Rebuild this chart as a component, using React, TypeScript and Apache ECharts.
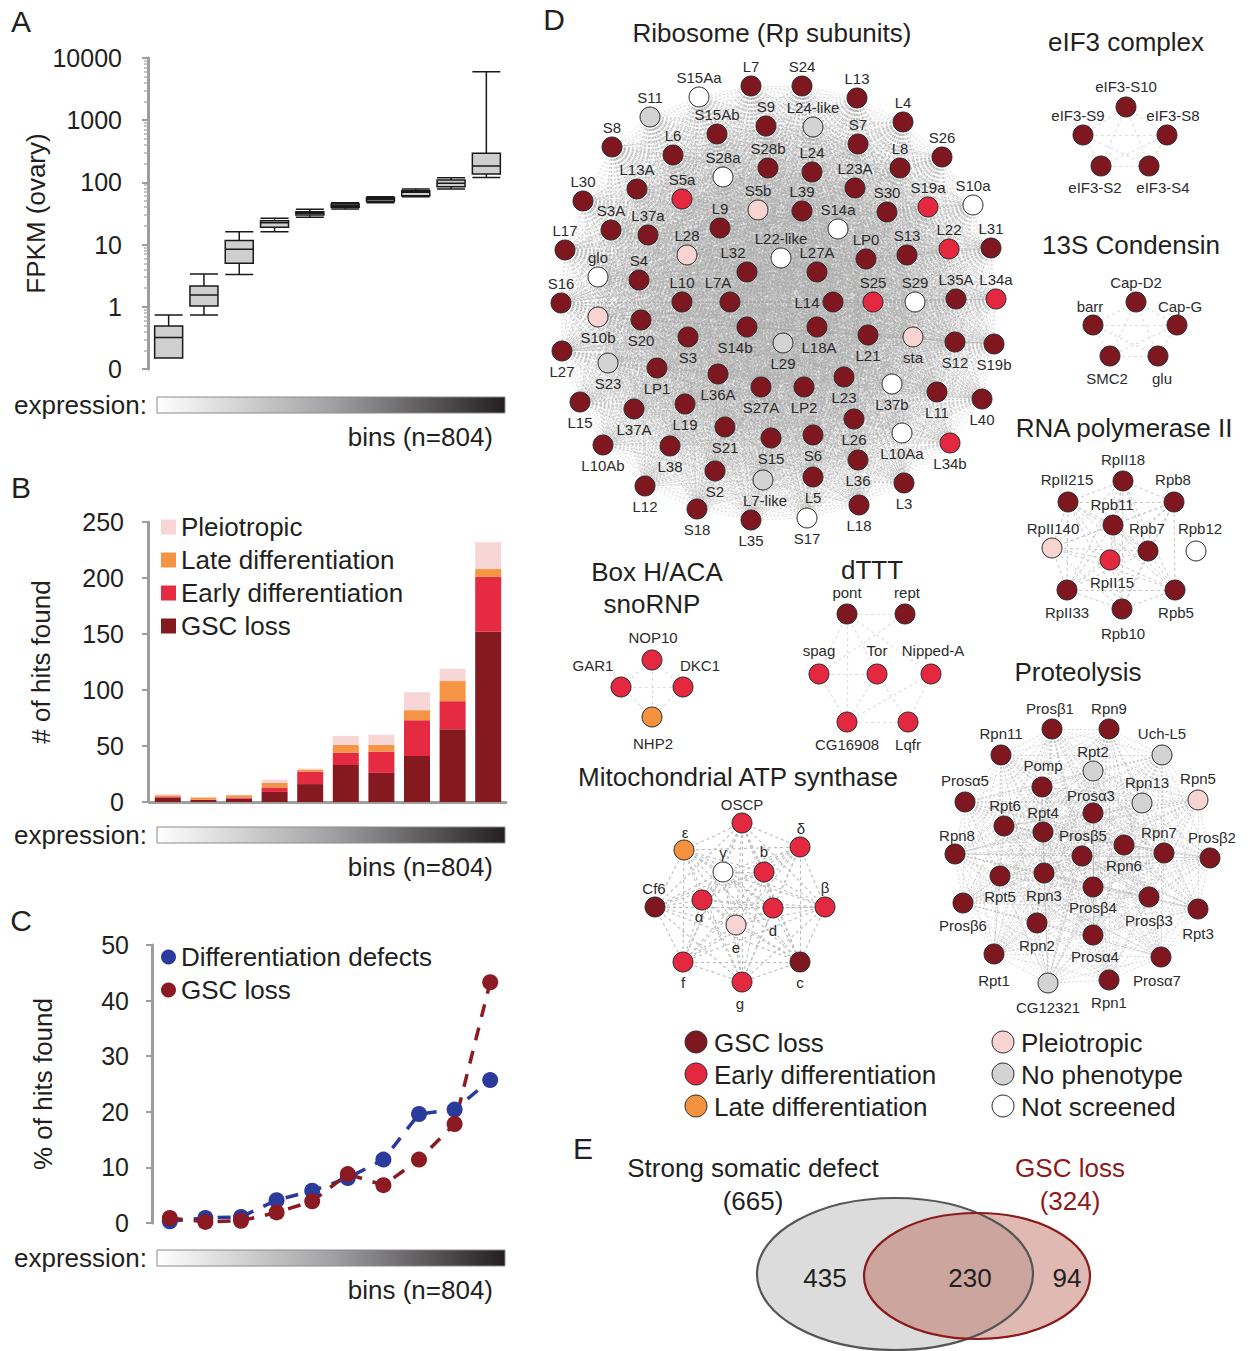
import React, { useEffect, useRef } from "react";
import * as echarts from "echarts";

const FONT = "'Liberation Sans', Arial, Helvetica, sans-serif";
const INK = "#231f20";

// ---------- Panels A-C data ----------
const BINS = ["1", "2", "3", "4", "5", "6", "7", "8", "9", "10"];

// FPKM (ovary) per expression bin: [min, Q1, median, Q3, max]
const FPKM_BOXES = [
  [0.15, 0.15, 0.32, 0.49, 0.74],
  [0.74, 1.03, 1.55, 2.16, 3.37],
  [3.3, 5.0, 8.4, 11.6, 16.1],
  [16.1, 19, 22.5, 24.2, 26.5],
  [27.5, 29.9, 31.8, 33.8, 36.9],
  [37.4, 39.8, 42.2, 45, 47.2],
  [47.2, 49.6, 53.4, 56.7, 58.9],
  [58.9, 61.1, 69.2, 73.6, 78.3],
  [78.3, 85.3, 96.6, 109, 119],
  [120, 136, 184, 293, 6026],
];

// # of hits found per bin
const GSC_LOSS_HITS = [4, 2, 3, 9, 16, 33, 26, 41, 65, 152];
const EARLY_DIFF_HITS = [1, 0, 1, 4, 11, 11, 19, 32, 25, 49];
const LATE_DIFF_HITS = [1, 2, 2, 4, 2, 7, 6, 9, 18, 7];
const PLEIOTROPIC_HITS = [1, 0, 0, 3, 1, 8, 9, 16, 11, 24];

// % of hits found per bin
const DIFF_DEFECTS_PCT = [0.3, 0.9, 1.1, 4.1, 5.8, 8.1, 11.4, 19.6, 20.4, 25.7];
const GSC_LOSS_PCT = [0.9, 0.2, 0.4, 1.9, 3.9, 8.8, 6.8, 11.4, 17.8, 43.3];

// ---------- Panel D: phenotype classes ----------
const PHENOTYPE_CODES = ["G", "E", "L", "P", "N", "X"];
const PHENOTYPE_NAMES = [
  "GSC loss",
  "Early differentiation",
  "Late differentiation",
  "Pleiotropic",
  "No phenotype",
  "Not screened",
];
const PHENOTYPE_COLORS: Record<string, string> = {
  G: "#7f1720",
  E: "#e4283f",
  L: "#f4923f",
  P: "#f7d4d2",
  N: "#d3d3d3",
  X: "#ffffff",
};

// Network layouts: [gene, layout x, layout y, phenotype, label anchor]
type NodeRow = [string, number, number, string, string | number[]];

const RIBOSOME_NODES: NodeRow[] = [
  ["S15Aa", 699, 97, "X", "t"], ["L7", 751, 86, "G", "t"], ["S24", 802, 86, "G", "t"],
  ["L13", 857, 98, "G", "t"], ["S11", 650, 117, "N", "t"], ["L4", 903, 122, "G", "t"],
  ["S15Ab", 717, 134, "G", "t"], ["S9", 766, 126, "G", "t"], ["L24-like", 813, 127, "N", "t"],
  ["S7", 858, 144, "G", "t"], ["S8", 612, 147, "G", "t"], ["L6", 673, 155, "G", "t"],
  ["S26", 942, 157, "G", "t"], ["S28a", 723, 177, "X", "t"], ["S28b", 768, 168, "G", "t"],
  ["L24", 812, 172, "G", "t"], ["L8", 900, 168, "G", "t"], ["L23A", 855, 188, "G", "t"],
  ["L30", 583, 201, "G", "t"], ["L13A", 637, 189, "G", "t"], ["S5a", 682, 199, "E", "t"],
  ["S5b", 758, 210, "P", "t"], ["L39", 802, 211, "G", "t"], ["S30", 887, 212, "G", "t"],
  ["S19a", 928, 207, "E", "t"], ["S10a", 973, 205, "X", "t"], ["S3A", 611, 230, "G", "t"],
  ["L37a", 648, 235, "G", "t"], ["L9", 720, 228, "G", "t"], ["S14a", 838, 229, "X", "t"],
  ["L17", 565, 250, "G", "t"], ["L28", 687, 255, "P", "t"], ["L22-like", 781, 258, "X", "t"],
  ["LP0", 866, 259, "G", "t"], ["S13", 907, 255, "G", "t"], ["L22", 949, 249, "E", "t"],
  ["L31", 991, 248, "G", "t"], ["L32", 747, 272, "G", [-14, -20]], ["L27A", 817, 272, "G", "t"],
  ["glo", 598, 277, "X", "t"], ["S4", 639, 280, "G", "t"], ["S16", 561, 303, "G", "t"],
  ["L10", 682, 302, "G", "t"], ["L7A", 730, 302, "G", [-12, -20]], ["L14", 833, 302, "G", "l"],
  ["S25", 873, 302, "E", "t"], ["S29", 915, 302, "X", "t"], ["L35A", 956, 299, "G", "t"],
  ["L34a", 996, 299, "E", "t"], ["S10b", 598, 317, "P", "b"], ["S20", 641, 320, "G", "b"],
  ["S3", 688, 337, "G", "b"], ["S14b", 747, 327, "G", [-12, 20]], ["L29", 783, 343, "N", "b"],
  ["L18A", 817, 327, "G", [2, 20]], ["L21", 868, 335, "G", "b"], ["sta", 913, 337, "P", "b"],
  ["S12", 955, 342, "G", "b"], ["S19b", 994, 344, "G", "b"], ["L27", 562, 351, "G", "b"],
  ["S23", 608, 363, "N", "b"], ["LP1", 657, 368, "G", "b"], ["L36A", 718, 374, "G", "b"],
  ["S27A", 761, 387, "G", "b"], ["LP2", 804, 387, "G", "b"], ["L23", 844, 377, "G", "b"],
  ["L37b", 892, 384, "X", "b"], ["L11", 937, 392, "G", "b"], ["L40", 982, 399, "G", "b"],
  ["L15", 580, 402, "G", "b"], ["L37A", 634, 409, "G", "b"], ["L19", 685, 404, "G", "b"],
  ["S21", 725, 427, "G", "b"], ["L26", 854, 419, "G", "b"], ["L10Aa", 902, 433, "X", "b"],
  ["L34b", 950, 443, "E", "b"], ["L10Ab", 603, 445, "G", "b"], ["L38", 670, 446, "G", "b"],
  ["S15", 771, 438, "G", "b"], ["S6", 813, 435, "G", "b"], ["L36", 858, 460, "G", "b"],
  ["L3", 904, 483, "G", "b"], ["S2", 715, 471, "G", "b"], ["L7-like", 763, 480, "N", [2, 20]],
  ["L5", 813, 477, "G", "b"], ["L12", 645, 486, "G", "b"], ["S18", 697, 509, "G", "b"],
  ["L18", 859, 505, "G", "b"], ["L35", 751, 520, "G", "b"], ["S17", 807, 518, "X", "b"],
];

const EIF3_NODES: NodeRow[] = [
  ["eIF3-S10", 1126, 107, "G", [0, -21]],
  ["eIF3-S9", 1083, 135, "G", [-5, -20]],
  ["eIF3-S8", 1167, 135, "G", [6, -20]],
  ["eIF3-S2", 1101, 166, "G", [-6, 21]],
  ["eIF3-S4", 1149, 166, "G", [14, 21]],
];

const CONDENSIN_NODES: NodeRow[] = [
  ["Cap-D2", 1136, 302, "G", [0, -20]],
  ["barr", 1093, 325, "G", [-3, -19]],
  ["Cap-G", 1177, 325, "G", [3, -19]],
  ["SMC2", 1110, 356, "G", [-3, 22]],
  ["glu", 1158, 356, "G", [4, 22]],
];

const POLII_NODES: NodeRow[] = [
  ["RpII18", 1123, 481, "G", [0, -22]],
  ["RpII215", 1068, 502, "G", [-1, -23]],
  ["Rpb8", 1174, 502, "G", [-1, -23]],
  ["Rpb11", 1113, 525, "G", [-1, -21]],
  ["RpII140", 1052, 548, "P", [1, -20]],
  ["Rpb7", 1148, 551, "G", [-1, -23]],
  ["Rpb12", 1196, 551, "X", [4, -23]],
  ["RpII15", 1110, 560, "E", [2, 22]],
  ["RpII33", 1067, 590, "G", [0, 22]],
  ["Rpb5", 1175, 590, "G", [1, 22]],
  ["Rpb10", 1122, 609, "G", [1, 24]],
];

const SNORNP_NODES: NodeRow[] = [
  ["NOP10", 652, 660, "E", [1, -23]],
  ["GAR1", 621, 687, "E", [-28, -22]],
  ["DKC1", 683, 687, "E", [17, -22]],
  ["NHP2", 652, 717, "L", [1, 26]],
];

const DTTT_NODES: NodeRow[] = [
  ["pont", 847, 614, "G", [0, -22]],
  ["rept", 905, 614, "G", [2, -22]],
  ["spag", 819, 674, "E", [0, -24]],
  ["Tor", 877, 674, "E", [0, -24]],
  ["Nipped-A", 931, 674, "E", [2, -24]],
  ["CG16908", 847, 722, "E", [0, 22]],
  ["Lqfr", 908, 722, "E", [0, 22]],
];
const DTTT_LINKS = [
  [0, 1], [0, 2], [0, 3], [0, 4], [0, 5], [1, 2], [2, 3], [2, 5],
  [3, 5], [3, 6], [5, 6], [5, 4], [4, 6],
];

const ATP_NODES: NodeRow[] = [
  ["OSCP", 742, 823, "E", [0, -19]],
  ["ε", 684, 850, "L", [1, -18]],
  ["δ", 800, 847, "E", [1, -19]],
  ["γ", 723, 872, "X", [0, -20]],
  ["b", 764, 872, "E", [0, -21]],
  ["Cf6", 655, 907, "G", [-1, -19]],
  ["α", 702, 900, "E", [-3, 16]],
  ["d", 773, 908, "E", [0, 22]],
  ["β", 825, 907, "E", [0, -20]],
  ["e", 736, 925, "P", [0, 22]],
  ["f", 683, 962, "E", [0, 20]],
  ["c", 800, 962, "G", [0, 20]],
  ["g", 742, 982, "E", [-2, 21]],
];

const PROTEOLYSIS_NODES: NodeRow[] = [
  ["Prosβ1", 1052, 729, "G", [-2, -21]], ["Rpn9", 1109, 729, "G", [0, -21]],
  ["Rpn11", 1001, 755, "G", [0, -22]], ["Uch-L5", 1162, 755, "N", [0, -22]],
  ["Rpt2", 1093, 771, "N", [0, -20]], ["Pomp", 1042, 787, "G", [1, -22]],
  ["Prosα5", 965, 802, "G", [0, -22]], ["Rpn13", 1142, 803, "N", [5, -21]],
  ["Rpn5", 1198, 800, "P", [0, -22]], ["Prosα3", 1093, 813, "G", [-2, -18]],
  ["Rpt6", 1004, 826, "G", [1, -21]], ["Rpt4", 1043, 832, "G", [0, -20]],
  ["Prosβ5", 1082, 856, "G", [1, -21]], ["Rpn7", 1164, 853, "G", [-5, -21]],
  ["Prosβ2", 1210, 858, "G", [2, -21]], ["Rpn8", 955, 854, "G", [2, -19]],
  ["Rpn6", 1124, 845, "G", [0, 20]], ["Rpt5", 1000, 876, "G", [0, 20]],
  ["Rpn3", 1044, 873, "G", [0, 22]], ["Prosβ4", 1093, 887, "G", [0, 20]],
  ["Prosβ6", 963, 903, "G", [0, 22]], ["Prosβ3", 1149, 897, "G", [0, 23]],
  ["Rpt3", 1198, 909, "G", [0, 24]], ["Rpn2", 1037, 923, "G", [0, 22]],
  ["Prosα4", 1093, 935, "G", [2, 21]], ["Rpt1", 994, 954, "G", [0, 26]],
  ["Prosα7", 1161, 957, "G", [-4, 23]], ["CG12321", 1048, 983, "N", [0, 24]],
  ["Rpn1", 1109, 980, "G", [0, 22]],
];

// ---------- Panel E: Venn ----------
const VENN_SET_NAMES = ["Strong somatic defect", "GSC loss"];
const VENN_SET_TOTALS = [665, 324];
const VENN_REGION_COUNTS = [435, 230, 94]; // left only, both, right only

// ---------- helpers ----------
function allPairs(n: number, skip: number[] = []) {
  const out: number[][] = [];
  for (let i = 0; i < n; i++) {
    if (skip.includes(i)) continue;
    for (let j = i + 1; j < n; j++) {
      if (skip.includes(j)) continue;
      out.push([i, j]);
    }
  }
  return out;
}

function labelOffset(p: string | number[]) {
  if (Array.isArray(p)) return p;
  if (p === "t") return [0, -20];
  if (p === "b") return [0, 20];
  if (p === "l") return [-26, 0];
  return [0, 0];
}

function networkSeries(id: string, nodes: NodeRow[], links: number[][], lineStyle: any) {
  return {
    type: "graph",
    id,
    coordinateSystem: "cartesian2d",
    xAxisIndex: 3,
    yAxisIndex: 3,
    symbol: "circle",
    symbolSize: 20,
    silent: true,
    emphasis: { disabled: true },
    z: 3,
    data: nodes.map(([name, x, y, s, lp]) => ({
      name,
      value: [x, y],
      itemStyle: { color: PHENOTYPE_COLORS[s], borderColor: "#2a2a2a", borderWidth: 1 },
      label: {
        show: true,
        position: "inside",
        offset: labelOffset(lp),
        color: "#2b2b2b",
        fontSize: 15,
        fontFamily: FONT,
      },
    })),
    links: links.map(([a, b]) => ({ source: a, target: b })),
    lineStyle,
  };
}

function text(t: string, x: number, y: number, size: number, align = "center", fill = INK) {
  return {
    type: "text",
    x,
    y,
    silent: true,
    style: {
      text: t,
      fontSize: size,
      fontFamily: FONT,
      fill,
      align,
      verticalAlign: "middle",
      textAlign: align,
      textVerticalAlign: "middle",
    },
  };
}

function expressionBar(y: number) {
  return [
    {
      type: "rect",
      silent: true,
      shape: { x: 157, y, width: 348, height: 16 },
      style: {
        fill: new echarts.graphic.LinearGradient(0, 0, 1, 0, [
          { offset: 0, color: "#ffffff" },
          { offset: 0.5, color: "#a2a2a4" },
          { offset: 1, color: "#231f20" },
        ]),
        stroke: "#8a8a8a",
        lineWidth: 1,
      },
    },
    text("expression:", 14, y + 8, 26, "left"),
    text("bins (n=804)", 493, y + 40, 26, "right"),
  ];
}

const AXIS_GRAY = "#9e9e9e";

export default function App() {
  const ref = useRef<HTMLDivElement>(null);

  useEffect(() => {
    if (!ref.current) return;
    const chart = echarts.init(ref.current, undefined, { renderer: "svg" });

    const BAR_COLORS = ["#841a20", "#e52a41", "#f59444", "#f7d6d5"];
    const BLUE = "#2b3b9b";
    const RED = "#8c1a22";

    const graphics: any[] = [
      text("A", 21, 21, 30),
      text("B", 21, 487, 30),
      text("C", 21, 920, 30),
      text("D", 554, 19, 30),
      text("E", 583, 1148, 30),
      ...expressionBar(397),
      ...expressionBar(827),
      ...expressionBar(1250),
      text("Ribosome (Rp subunits)", 772, 33, 26),
      text("eIF3 complex", 1126, 42, 26),
      text("13S Condensin", 1131, 245, 26),
      text("RNA polymerase II", 1124, 428, 26),
      text("Box H/ACA", 657, 572, 26),
      text("snoRNP", 652, 604, 26),
      text("dTTT", 872, 570, 26),
      text("Mitochondrial ATP synthase", 738, 777, 26),
      text("Proteolysis", 1078, 672, 26),
    ];

    // Panel D legend
    PHENOTYPE_CODES.forEach((code, i) => {
      const col = i < 3 ? 0 : 1;
      const row = i % 3;
      const cx = col === 0 ? 696 : 1003;
      const cy = 1042 + row * 32;
      graphics.push({
        type: "circle",
        silent: true,
        shape: { cx, cy, r: 11 },
        style: { fill: PHENOTYPE_COLORS[code], stroke: "#2a2a2a", lineWidth: 1 },
      });
      graphics.push(text(PHENOTYPE_NAMES[i], cx + 18, cy + 1, 26, "left"));
    });

    // Panel E Venn
    const leftE = { cx: 895, cy: 1274, rx: 138, ry: 76 };
    const rightE = { cx: 977, cy: 1276, rx: 113, ry: 63 };
    graphics.push(
      { type: "ellipse", silent: true, shape: leftE, style: { fill: "#dcdcdc" } },
      { type: "ellipse", silent: true, shape: rightE, style: { fill: "rgba(178,88,72,0.42)" } },
      { type: "ellipse", silent: true, shape: leftE, style: { fill: "none", stroke: "#555555", lineWidth: 2.2 } },
      { type: "ellipse", silent: true, shape: rightE, style: { fill: "none", stroke: "#8b1a1a", lineWidth: 2.2 } },
      text(VENN_SET_NAMES[0], 753, 1168, 26),
      text(`(${VENN_SET_TOTALS[0]})`, 753, 1201, 26),
      text(VENN_SET_NAMES[1], 1070, 1168, 26, "center", "#8b1a1a"),
      text(`(${VENN_SET_TOTALS[1]})`, 1070, 1201, 26, "center", "#8b1a1a"),
      text(String(VENN_REGION_COUNTS[0]), 825, 1278, 26),
      text(String(VENN_REGION_COUNTS[1]), 970, 1278, 26),
      text(String(VENN_REGION_COUNTS[2]), 1067, 1278, 26)
    );

    const yAxisBase = {
      axisLine: { show: true, lineStyle: { color: AXIS_GRAY, width: 3 } },
      axisTick: { show: true, length: 6, lineStyle: { color: AXIS_GRAY, width: 2 } },
      splitLine: { show: false },
      nameLocation: "middle",
      nameRotate: 90,
      nameTextStyle: { fontSize: 26, color: INK, fontFamily: FONT },
    };
    const hiddenX = {
      type: "category",
      data: BINS,
      axisLine: { show: false },
      axisTick: { show: false },
      axisLabel: { show: false },
      splitLine: { show: false },
    };

    const option: any = {
      animation: false,
      textStyle: { fontFamily: FONT },
      grid: [
        { left: 151, top: 58, width: 353, height: 311, outerBoundsMode: "none" },
        { left: 150, top: 522, width: 356, height: 280, outerBoundsMode: "none" },
        { left: 152, top: 945, width: 356, height: 278, outerBoundsMode: "none" },
        { left: 0, top: 0, width: 1251, height: 1351, outerBoundsMode: "none" },
      ],
      xAxis: [
        { ...hiddenX, gridIndex: 0 },
        {
          ...hiddenX,
          gridIndex: 1,
          axisLine: { show: true, lineStyle: { color: AXIS_GRAY, width: 3 } },
        },
        { ...hiddenX, gridIndex: 2 },
        { type: "value", gridIndex: 3, min: 0, max: 1251, show: false },
      ],
      yAxis: [
        {
          ...yAxisBase,
          gridIndex: 0,
          type: "log",
          logBase: 10,
          min: 0.1,
          max: 10000,
          offset: 3,
          minorTick: { show: true, splitNumber: 9, length: 4, lineStyle: { color: "#b0b0b0", width: 1.5 } },
          axisLabel: {
            fontSize: 25,
            color: INK,
            margin: 26,
            formatter: (v: number) => (v < 0.5 ? "0" : String(Math.round(v))),
          },
          name: "FPKM (ovary)",
          nameGap: 95,
        },
        {
          ...yAxisBase,
          gridIndex: 1,
          type: "value",
          min: 0,
          max: 250,
          interval: 50,
          offset: 2,
          axisLabel: { fontSize: 25, color: INK, margin: 24 },
          name: "# of hits found",
          nameGap: 94,
        },
        {
          ...yAxisBase,
          gridIndex: 2,
          type: "value",
          min: 0,
          max: 50,
          interval: 10,
          axisLabel: { fontSize: 25, color: INK, margin: 23 },
          name: "% of hits found",
          nameGap: 96,
        },
        { type: "value", gridIndex: 3, min: 0, max: 1351, inverse: true, show: false },
      ],
      legend: [
        {
          orient: "vertical",
          left: 161,
          top: 514,
          padding: 0,
          itemWidth: 15,
          itemHeight: 15,
          itemGap: 7,
          icon: "rect",
          selectedMode: false,
          textStyle: { fontSize: 26, lineHeight: 26, color: INK, fontFamily: FONT },
          data: ["Pleiotropic", "Late differentiation", "Early differentiation", "GSC loss"],
        },
        {
          orient: "vertical",
          left: 161,
          top: 944,
          padding: 0,
          itemWidth: 15,
          itemHeight: 15,
          itemGap: 7,
          selectedMode: false,
          textStyle: { fontSize: 26, lineHeight: 26, color: INK, fontFamily: FONT },
          data: [
            { name: "Differentiation defects", icon: "circle", itemStyle: { color: BLUE } },
            { name: "GSC loss", icon: "circle", itemStyle: { color: RED } },
          ],
        },
      ],
      graphic: { elements: graphics },
      series: [
        {
          type: "boxplot",
          name: "FPKM",
          xAxisIndex: 0,
          yAxisIndex: 0,
          data: FPKM_BOXES,
          boxWidth: [28, 28],
          silent: true,
          itemStyle: { color: "#cfcfcf", borderColor: "#1a1a1a", borderWidth: 1.5 },
        },
        ...[
          ["GSC loss", GSC_LOSS_HITS],
          ["Early differentiation", EARLY_DIFF_HITS],
          ["Late differentiation", LATE_DIFF_HITS],
          ["Pleiotropic", PLEIOTROPIC_HITS],
        ].map(([name, data], i) => ({
          type: "bar",
          name,
          xAxisIndex: 1,
          yAxisIndex: 1,
          stack: "hits",
          barWidth: 26,
          data,
          silent: true,
          itemStyle: { color: BAR_COLORS[i] },
        })),
        {
          type: "line",
          name: "Differentiation defects",
          xAxisIndex: 2,
          yAxisIndex: 2,
          data: DIFF_DEFECTS_PCT,
          symbol: "circle",
          symbolSize: 16,
          silent: true,
          itemStyle: { color: BLUE },
          lineStyle: { color: BLUE, width: 3.5, type: [13, 11] },
        },
        {
          type: "line",
          name: "GSC loss",
          xAxisIndex: 2,
          yAxisIndex: 2,
          data: GSC_LOSS_PCT,
          symbol: "circle",
          symbolSize: 16,
          silent: true,
          itemStyle: { color: RED },
          lineStyle: { color: RED, width: 3.5, type: [13, 11] },
        },
        networkSeries("ribosome", RIBOSOME_NODES, allPairs(RIBOSOME_NODES.length), {
          color: "#a8a8a8", width: 0.7, type: [2, 2], opacity: 0.5,
        }),
        networkSeries("eif3", EIF3_NODES, allPairs(EIF3_NODES.length), {
          color: "#c0c0c0", width: 1.2, type: [3, 3],
        }),
        networkSeries("condensin", CONDENSIN_NODES, allPairs(CONDENSIN_NODES.length), {
          color: "#c0c0c0", width: 1.2, type: [3, 3],
        }),
        networkSeries("polII", POLII_NODES, allPairs(POLII_NODES.length, [6]), {
          color: "#c0c0c0", width: 1, type: [3, 3], opacity: 0.9,
        }),
        networkSeries("snornp", SNORNP_NODES, allPairs(SNORNP_NODES.length), {
          color: "#c0c0c0", width: 1.2, type: [3, 3],
        }),
        networkSeries("dttt", DTTT_NODES, DTTT_LINKS, {
          color: "#c0c0c0", width: 1.2, type: [3, 3],
        }),
        networkSeries("atp", ATP_NODES, allPairs(ATP_NODES.length), {
          color: "#bcbcbc", width: 1.1, type: [3, 3], opacity: 1,
        }),
        networkSeries("proteolysis", PROTEOLYSIS_NODES, allPairs(PROTEOLYSIS_NODES.length), {
          color: "#b0b0b0", width: 0.8, type: [2, 2], opacity: 0.65,
        }),
      ],
    };

    chart.setOption(option);
    return () => chart.dispose();
  }, []);

  return (
    <div
      ref={ref}
      style={{ position: "absolute", left: 0, top: 0, width: 1251, height: 1351, background: "#ffffff" }}
    />
  );
}
